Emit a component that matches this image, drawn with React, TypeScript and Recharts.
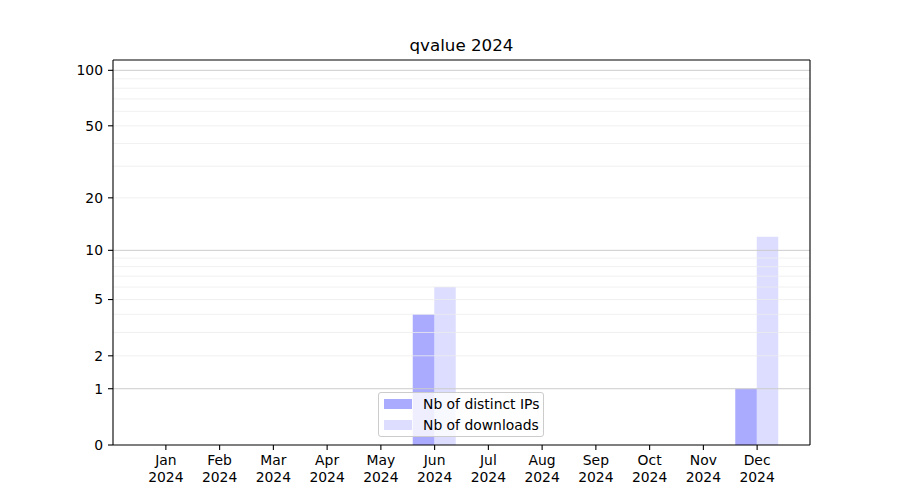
import React from 'react';
import { BarChart, Bar, XAxis, YAxis, ReferenceLine, Legend } from 'recharts';

const months = ['Jan', 'Feb', 'Mar', 'Apr', 'May', 'Jun', 'Jul', 'Aug', 'Sep', 'Oct', 'Nov', 'Dec'];
const yearLabel = '2024';
const distinctIPs = [0, 0, 0, 0, 0, 4, 0, 0, 0, 0, 0, 1];
const downloads = [0, 0, 0, 0, 0, 6, 0, 0, 0, 0, 0, 12];
const yTickValues = [0, 1, 2, 5, 10, 20, 50, 100];
const majorGrid = [1, 10, 100];
const minorGrid = [2, 3, 4, 5, 6, 7, 8, 9, 20, 30, 40, 50, 60, 70, 80, 90];
const yMaxValue = 113.7;
const title = 'qvalue 2024';
const seriesNames = ['Nb of distinct IPs', 'Nb of downloads'];

const FONT = '"DejaVu Sans", sans-serif';
const BLUE = '#0000ff';
const IP_OPACITY = 0.333;
const DL_OPACITY = 0.133;

const tf = (v: number) => Math.log10(1 + v);
const inv = (t: number) => Math.round(Math.pow(10, t) - 1);

const data = months.map((m, i) => ({
  month: m,
  ips: distinctIPs[i],
  downloads: downloads[i],
}));

const MonthTick = (props: any) => {
  const { x, y, payload } = props;
  return (
    <g>
      <text x={x} y={y} textAnchor="middle" fontFamily={FONT} fontSize={13.9} fill="#000">
        <tspan x={x} dy={15}>{payload.value}</tspan>
        <tspan x={x} dy={16.5}>{yearLabel}</tspan>
      </text>
    </g>
  );
};

const LegendContent = (props: any) => {
  const { payload } = props;
  const opac = [IP_OPACITY, DL_OPACITY];
  return (
    <div
      style={{
        position: 'relative',
        width: 166,
        height: 45,
        boxSizing: 'border-box',
        border: '1px solid #cccccc',
        borderRadius: 3,
        background: 'rgba(255,255,255,0.8)',
        fontFamily: FONT,
        fontSize: 13.9,
        color: '#000',
      }}
    >
      {(payload || []).map((entry: any, i: number) => (
        <div key={i}>
          <div
            style={{
              position: 'absolute',
              left: 5,
              top: 6 + i * 21,
              width: 28,
              height: 10,
              background: BLUE,
              opacity: opac[i],
            }}
          />
          <div
            style={{
              position: 'absolute',
              left: 44,
              top: 1 + i * 21,
              height: 20,
              lineHeight: '20px',
              whiteSpace: 'nowrap',
            }}
          >
            {entry.value}
          </div>
        </div>
      ))}
    </div>
  );
};

export default function App() {
  return (
    <div style={{ position: 'absolute', left: 0, top: 0, width: 900, height: 500, background: '#fff' }}>
      <BarChart
        width={900}
        height={500}
        data={data}
        margin={{ top: 59, right: 89, bottom: 10, left: 0 }}
        barGap={0}
        barSize={21.5}
      >
        <text x={461.5} y={50.5} textAnchor="middle" fontFamily={FONT} fontSize={16.7} fill="#000">
          {title}
        </text>
        <XAxis
          dataKey="month"
          height={45}
          padding={{ left: 26, right: 26 }}
          tick={<MonthTick />}
          tickSize={5}
          tickMargin={0}
          interval={0}
          axisLine={{ stroke: '#000', strokeWidth: 1.1 }}
          tickLine={{ stroke: '#000', strokeWidth: 1.1 }}
        />
        <XAxis
          xAxisId="top"
          orientation="top"
          dataKey="month"
          height={1}
          tick={false}
          tickLine={false}
          axisLine={{ stroke: '#000', strokeWidth: 1.1 }}
        />
        <YAxis
          yAxisId="left"
          type="number"
          width={113}
          domain={[0, tf(yMaxValue)]}
          ticks={yTickValues.map(tf)}
          tickFormatter={(v: number) => String(inv(v))}
          tick={{ fill: '#000', fontSize: 13.9, fontFamily: FONT }}
          tickSize={5}
          tickMargin={5}
          interval={0}
          allowDataOverflow
          axisLine={{ stroke: '#000', strokeWidth: 1.1 }}
          tickLine={{ stroke: '#000', strokeWidth: 1.1 }}
        />
        <YAxis
          yAxisId="right"
          orientation="right"
          type="number"
          width={1}
          domain={[0, tf(yMaxValue)]}
          tick={false}
          tickLine={false}
          axisLine={{ stroke: '#000', strokeWidth: 1.1 }}
        />
        {minorGrid.map((v) => (
          <ReferenceLine key={'mi' + v} yAxisId="left" y={tf(v)} stroke="#ececec" strokeWidth={0.8} />
        ))}
        {majorGrid.map((v) => (
          <ReferenceLine key={'ma' + v} yAxisId="left" y={tf(v)} stroke="#cccccc" strokeWidth={1} />
        ))}
        <Bar
          yAxisId="left"
          name={seriesNames[0]}
          dataKey={(d: any) => tf(d.ips)}
          fill={BLUE}
          fillOpacity={IP_OPACITY}
          isAnimationActive={false}
        />
        <Bar
          yAxisId="left"
          name={seriesNames[1]}
          dataKey={(d: any) => tf(d.downloads)}
          fill={BLUE}
          fillOpacity={DL_OPACITY}
          isAnimationActive={false}
        />
        <Legend
          layout="horizontal"
          verticalAlign="middle"
          align="center"
          content={<LegendContent />}
          wrapperStyle={{ left: 378, top: 392, width: 166, height: 45 }}
        />
      </BarChart>
    </div>
  );
}
